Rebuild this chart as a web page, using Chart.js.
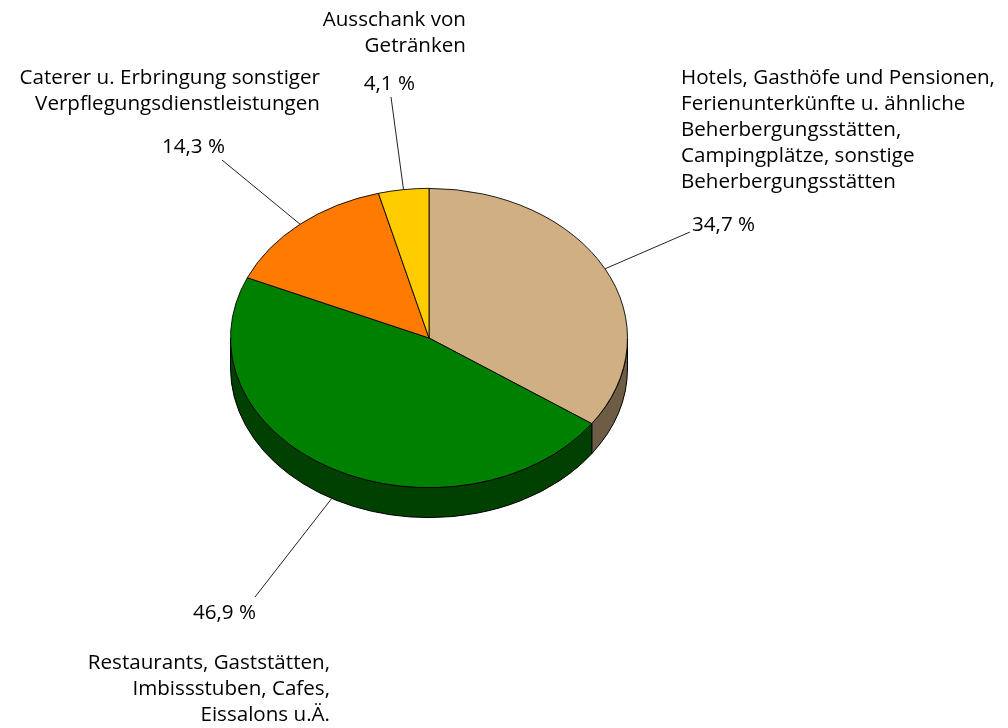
<!DOCTYPE html>
<html lang="de">
  <head>
    <meta charset="UTF-8" />
    <script src="https://cdn.jsdelivr.net/npm/chart.js@4.4.0/dist/chart.umd.min.js"></script>
    <title>Anteile Gastgewerbe</title>
    <style>
      body {
        margin: 0;
        padding: 0;
        background: #fff;
      }
      .container {
        width: 1008px;
        height: 728px;
        position: relative;
      }
    </style>
  </head>
  <body>
    <div class="container">
      <canvas id="pieChart"></canvas>
    </div>
    <script>
      const categories = [
        ['Hotels, Gasthöfe und Pensionen,', 'Ferienunterkünfte u. ähnliche', 'Beherbergungsstätten,', 'Campingplätze, sonstige', 'Beherbergungsstätten'],
        ['Restaurants, Gaststätten,', 'Imbissstuben, Cafes,', 'Eissalons u.Ä.'],
        ['Caterer u. Erbringung sonstiger', 'Verpflegungsdienstleistungen'],
        ['Ausschank von', 'Getränken'],
      ]
      const shares = [34.7, 46.9, 14.3, 4.1]
      const topColors = ['#D0AF82', '#008000', '#FF7A00', '#FFCC00']
      const sideColors = ['#6E5C44', '#004000', '#7F3D00', '#806600']

      const DEPTH = 30
      const K = 150 / 199 // vertical squash of the pie
      const FONT = '20.6px "Open Sans"'
      const LINE_H = 26

      // where each slice's texts sit and where its leader line ends
      const labelLayout = [
        { end: [690, 232], pct: { x: 692, y: 225, align: 'left' }, cat: { x: 681, y: 78, align: 'left' } },
        { end: [255, 597], pct: { x: 256, y: 613, align: 'right' }, cat: { x: 330, y: 663, align: 'right' } },
        { end: [222, 160], pct: { x: 225, y: 147, align: 'right' }, cat: { x: 320, y: 78, align: 'right' } },
        { end: [391, 97], pct: { x: 415, y: 84, align: 'right' }, cat: { x: 466, y: 20, align: 'right' } },
      ]

      const fmt = (v) => v.toFixed(1).replace('.', ',') + ' %'

      const ellipsePt = (cx, cy, r, t, dy) => [cx + r * Math.cos(t), cy + K * r * Math.sin(t) + dy]

      const pie3d = {
        id: 'pie3d',
        beforeDatasetsDraw(chart) {
          const ctx = chart.ctx
          const arcs = chart.getDatasetMeta(0).data

          // side walls, only the front half (0..PI) is visible
          ctx.save()
          ctx.strokeStyle = '#000'
          ctx.lineWidth = 1
          arcs.forEach((a, i) => {
            const t1 = Math.max(a.startAngle, 0)
            const t2 = Math.min(a.endAngle, Math.PI)
            if (t2 <= t1) return
            const r = a.outerRadius
            ctx.beginPath()
            ctx.ellipse(a.x, a.y, r, r * K, 0, t1, t2)
            ctx.ellipse(a.x, a.y + DEPTH, r, r * K, 0, t2, t1, true)
            ctx.closePath()
            ctx.fillStyle = sideColors[i]
            ctx.fill()
            ctx.stroke()
          })
          ctx.restore()

          // squash the top face
          const cy = arcs[0].y
          ctx.save()
          ctx.translate(0, cy)
          ctx.scale(1, K)
          ctx.translate(0, -cy)
        },
        afterDatasetsDraw(chart) {
          chart.ctx.restore()
        },
      }

      const pieLabels = {
        id: 'pieLabels',
        afterDraw(chart) {
          const ctx = chart.ctx
          const arcs = chart.getDatasetMeta(0).data
          ctx.save()
          ctx.font = FONT
          ctx.fillStyle = '#000'
          ctx.textBaseline = 'middle'
          arcs.forEach((a, i) => {
            const lay = labelLayout[i]
            const mid = (a.startAngle + a.endAngle) / 2
            const front = Math.sin(mid) > 0
            const p = ellipsePt(a.x, a.y, a.outerRadius, mid, front ? DEPTH : 0)
            ctx.strokeStyle = '#222'
            ctx.lineWidth = 1
            ctx.beginPath()
            ctx.moveTo(p[0], p[1])
            ctx.lineTo(lay.end[0], lay.end[1])
            ctx.stroke()

            ctx.textAlign = lay.pct.align
            ctx.fillText(fmt(shares[i]), lay.pct.x, lay.pct.y)
            ctx.textAlign = lay.cat.align
            categories[i].forEach((line, j) => {
              ctx.fillText(line, lay.cat.x, lay.cat.y + j * LINE_H)
            })
          })
          ctx.restore()
        },
      }

      new Chart(document.getElementById('pieChart'), {
        type: 'pie',
        data: {
          labels: categories.map((c) => c.join(' ')),
          datasets: [
            {
              data: shares,
              backgroundColor: topColors,
              borderColor: '#000',
              borderWidth: 1,
            },
          ],
        },
        options: {
          responsive: true,
          maintainAspectRatio: false,
          animation: false,
          layout: {
            padding: { left: 230, right: 380, top: 139, bottom: 191 },
          },
          plugins: {
            legend: { display: false },
            tooltip: { enabled: false },
          },
        },
        plugins: [pie3d, pieLabels],
      })
    </script>
  </body>
</html>
